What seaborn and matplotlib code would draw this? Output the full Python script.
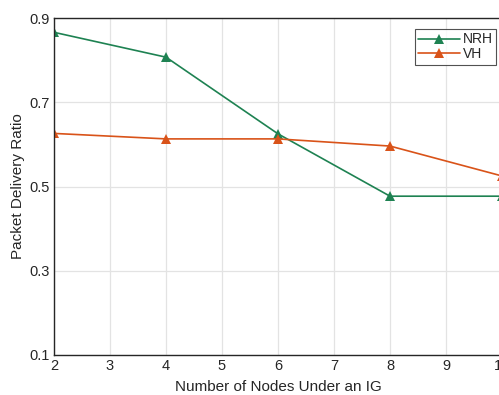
import matplotlib
matplotlib.use("Agg")
import matplotlib.pyplot as plt
import seaborn as sns
import pandas as pd

nodes = [2, 4, 6, 8, 10]
nrh = [0.866, 0.807, 0.625, 0.477, 0.477]
vh = [0.626, 0.613, 0.613, 0.596, 0.525]
series_names = ["NRH", "VH"]
colors = ["#1e8252", "#d95319"]

df = pd.DataFrame({
    "nodes": nodes * 2,
    "pdr": nrh + vh,
    "scheme": [series_names[0]] * len(nodes) + [series_names[1]] * len(nodes),
})

sns.set_theme(style="whitegrid")
plt.rcParams["font.family"] = ["Liberation Sans", "DejaVu Sans"]

fig = plt.figure(figsize=(4.99, 3.95), dpi=100)
ax = fig.add_axes([54 / 499, 1 - 355 / 395, 448 / 499, 337 / 395])

sns.lineplot(data=df, x="nodes", y="pdr", hue="scheme", palette=colors,
             marker="^", markersize=7, markeredgewidth=0, linewidth=1.2,
             ax=ax)

ax.set_xlim(2, 10)
ax.set_ylim(0.1, 0.9)
ax.set_xticks(range(2, 11))
ax.set_yticks([0.1, 0.3, 0.5, 0.7, 0.9])
ax.set_yticklabels(["0.1", "0.3", "0.5", "0.7", "0.9"])
ax.set_xlabel("Number of Nodes Under an IG", fontsize=11, color="#262626",
              labelpad=5)
ax.set_ylabel("Packet Delivery Ratio", fontsize=11, color="#262626",
              labelpad=3)
ax.tick_params(axis="both", labelsize=10.5, colors="#262626", length=0, pad=3)
ax.grid(True, color="#e3e3e3", linewidth=0.9)
ax.set_facecolor("white")
for side in ["left", "bottom", "top", "right"]:
    ax.spines[side].set_color("#262626")
    ax.spines[side].set_linewidth(1.0)

leg = ax.legend(title=None, loc="upper right",
                bbox_to_anchor=(496 / 499, 1 - 29 / 395),
                bbox_transform=fig.transFigure,
                fontsize=10, frameon=True, fancybox=False,
                borderpad=0.25, handlelength=3.0, handletextpad=0.2,
                labelspacing=0.05, borderaxespad=0)
leg.get_frame().set_edgecolor("#262626")
leg.get_frame().set_linewidth(0.8)

fig.savefig("out.png", dpi=100)
